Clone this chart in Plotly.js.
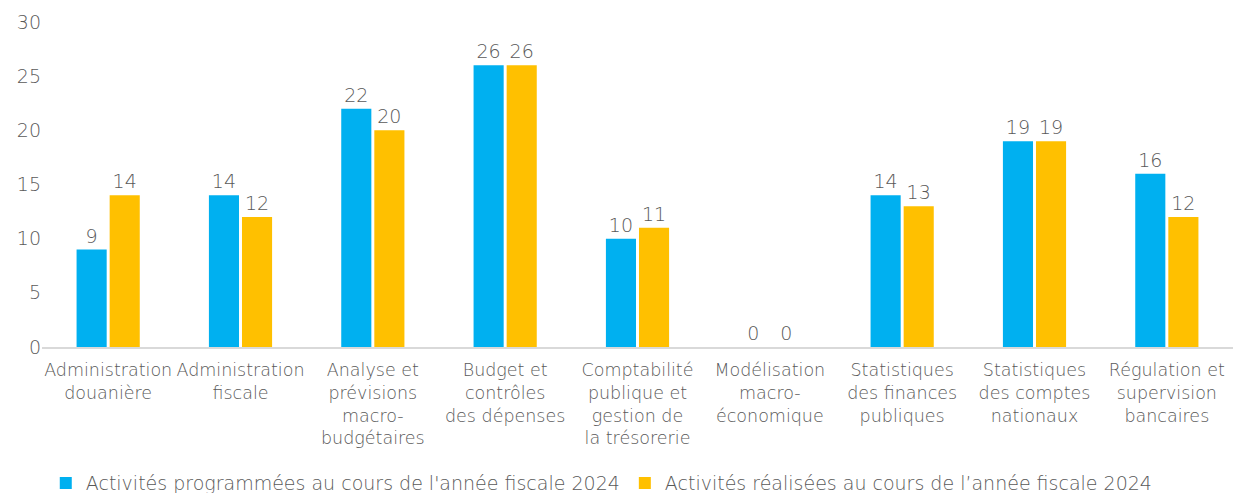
<!DOCTYPE html>
<html>
<head>
<meta charset="utf-8">
<script src="https://cdn.plot.ly/plotly-3.0.1.min.js"></script>
<style>
  html, body { margin: 0; padding: 0; background: #fff; }
  #chart { width: 1233px; height: 493px; }
</style>
</head>
<body>
<div id="chart"></div>
<script>
// categories (line breaks as in the original axis)
var categories = [
  "Administration<br>douanière",
  "Administration<br>fiscale",
  "Analyse et<br>prévisions<br>macro-<br>budgétaires",
  "Budget et<br>contrôles<br>des dépenses",
  "Comptabilité<br>publique et<br>gestion de<br>la trésorerie",
  "Modélisation<br>macro-<br>économique",
  "Statistiques<br>des finances<br>publiques",
  "Statistiques<br>des comptes<br>nationaux",
  "Régulation et<br>supervision<br>bancaires"
];
var programmees = [9, 14, 22, 26, 10, 0, 14, 19, 16];
var realisees = [14, 12, 20, 26, 11, 0, 13, 19, 12];

var grey = "#595959";
var fontFam = "'DejaVu Sans', 'Open Sans', sans-serif";

var trace1 = {
  x: categories,
  y: programmees,
  name: "Activités programmées au cours de l'année fiscale 2024",
  type: "bar",
  marker: { color: "#00B0F0" },
  text: programmees.map(String),
  textposition: "outside",
  textfont: { color: grey, size: 19, family: fontFam, weight: 300 },
  cliponaxis: false,
  hoverinfo: "y"
};

var trace2 = {
  x: categories,
  y: realisees,
  name: "Activités réalisées au cours de l’année fiscale 2024",
  type: "bar",
  marker: { color: "#FFC000" },
  text: realisees.map(String),
  textposition: "outside",
  textfont: { color: grey, size: 19, family: fontFam, weight: 300 },
  cliponaxis: false,
  hoverinfo: "y"
};

var layout = {
  width: 1233,
  height: 493,
  margin: { l: 42, r: 0, t: 22, b: 146 },
  paper_bgcolor: "#fff",
  plot_bgcolor: "#fff",
  font: { family: fontFam, color: grey, size: 19, weight: 300 },
  barmode: "group",
  bargap: 0.5,
  bargroupgap: 0.09,
  showlegend: true,
  legend: {
    orientation: "h",
    x: 0.47,
    xanchor: "center",
    yref: "container",
    y: 0.02,
    yanchor: "middle",
    font: { size: 19, color: grey, family: fontFam, weight: 300 },
    itemwidth: 30
  },
  xaxis: {
    // slightly smaller than the rest so the two "Administration" labels don't touch
    tickfont: { size: 17.5, color: grey, family: fontFam, weight: 300 },
    tickangle: 0,
    showline: true,
    linecolor: "#d9d9d9",
    linewidth: 2,
    ticks: "",
    ticklabelstandoff: 6,
    showgrid: false
  },
  yaxis: {
    range: [0, 30],
    dtick: 5,
    tickfont: { size: 19, color: grey, family: fontFam, weight: 300 },
    showgrid: false,
    zeroline: false,
    showline: false,
    ticks: ""
  }
};

document.addEventListener("DOMContentLoaded", function (event) {
  Plotly.newPlot("chart", [trace1, trace2], layout, { displayModeBar: false, staticPlot: true });
});
</script>
</body>
</html>
